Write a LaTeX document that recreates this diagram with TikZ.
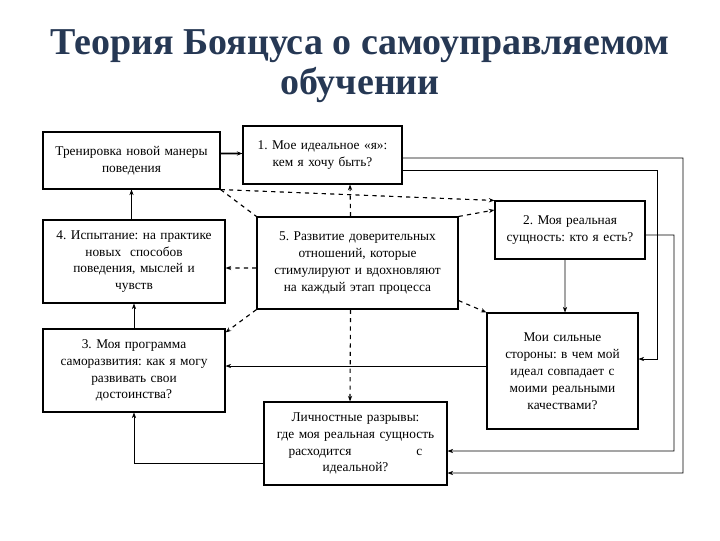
\documentclass[tikz,border=0pt]{standalone}
\usepackage{fontspec}
\setmainfont{Liberation Serif}
\usetikzlibrary{calc,arrows.meta}
\definecolor{titleblue}{RGB}{38, 56, 84}

\begin{document}
\frenchspacing
\begin{tikzpicture}[x=0.025cm, y=-0.025cm,
  box/.style={draw, thick, align=center, inner sep=2pt, font=\fontsize{9.5}{12}\selectfont},
  link/.style={-{Stealth[length=4pt,width=3pt]}},
  dlink/.style={-{Stealth[length=4pt,width=3pt]}, dashed, thick}]
\useasboundingbox (0,0) rectangle (720,540);
% Title
\node[font=\bfseries\fontsize{27}{28}\selectfont, text=titleblue, align=center] (title) at (360,66)
  {Теория Бояцуса о самоуправляемом\\обучении};

% Boxes
\node[box, minimum width={177*0.025cm}, minimum height={57*0.025cm}, text width={170*0.025cm}] (train) at (131.5,160.5)
  {Тренировка новой манеры\\поведения\\[9pt]};
\node[box, minimum width={159*0.025cm}, minimum height={58*0.025cm}, text width={150*0.025cm}] (ideal) at (322.5,155)
  {1. Мое идеальное «я»:\\кем я хочу быть?\\[9pt]};
\node[box, minimum width={150*0.025cm}, minimum height={58*0.025cm}, text width={142*0.025cm}] (real) at (570,230)
  {2. Моя реальная\\сущность: кто я есть?\\[6pt]};
\node[box, minimum width={201*0.025cm}, minimum height={92*0.025cm}, text width={192*0.025cm}] (trust) at (357.5,263)
  {5. Развитие доверительных\\отношений, которые\\стимулируют и вдохновляют\\на каждый этап процесса\\[8pt]};
\node[box, minimum width={182*0.025cm}, minimum height={83*0.025cm}, text width={174*0.025cm}] (test) at (134,261.5)
  {4. Испытание: на практике\\новых~ способов\\поведения, мыслей и\\чувств};
\node[box, minimum width={151*0.025cm}, minimum height={116*0.025cm}, text width={142*0.025cm}] (strong) at (562.5,371)
  {Мои сильные\\стороны: в чем мой\\идеал совпадает с\\моими реальными\\качествами?\\[10pt]};
\node[box, minimum width={182*0.025cm}, minimum height={83*0.025cm}, text width={174*0.025cm}] (plan) at (134,370.5)
  {3. Моя программа\\саморазвития: как я могу\\развивать свои\\достоинства?};
\node[box, minimum width={183*0.025cm}, minimum height={83*0.025cm}, text width={175*0.025cm}] (gaps) at (355.5,443.5)
  {Личностные разрывы:\\где моя реальная сущность\\расходится \hspace{4.2em} с\\идеальной?};

% Solid connectors
\draw[link, very thick] ($(train.east)+(0,-7)$) -- ($(ideal.west)+(0,-1.5)$);
\draw[link] (test.north) ++(-2.5,0) -- ($(train.south)+(0,0)$);
\draw[link] (plan.north) -- (test.south);
\draw[link] ($(gaps.west)+(0,20)$) -| (plan.south);
\draw[link] ($(strong.west)+(0,-5)$) -- ($(plan.east)+(0,-4.5)$);
\draw[link] ($(real.south)+(-5,0)$) -- ($(strong.north)+(2.5,0)$);
\draw[link] ($(real.east)+(0,5)$) -| (674,451) -- ($(gaps.east)+(0,7.5)$);
\draw[link] ($(ideal.east)+(0,15)$) -| (657,359) -- ($(strong.east)+(0,-12)$);
\draw[link] ($(ideal.east)+(0,3)$) -| (683,473) -- ($(gaps.east)+(0,29.5)$);

% Dashed connectors
\draw[dlink] (train.south east) -- (real.north west);
\draw[dashed, thick] (train.south east) -- (trust.north west);
\draw[dlink] ($(trust.north)+(-7,0)$) -- ($(ideal.south)+(27.5,0)$);
\draw[dlink] (trust.north east) -- ($(real.west)+(0,-20)$);
\draw[dlink] ($(trust.west)+(0,5)$) -- ($(test.east)+(0,6.5)$);
\draw[dlink] (trust.south west) -- ($(plan.north east)+(0,4)$);
\draw[dlink] ($(trust.south east)+(0,-9)$) -- (strong.north west);
\draw[dlink] ($(trust.south)+(-7,0)$) -- ($(gaps.north)+(-5.5,0)$);
\end{tikzpicture}
\end{document}
